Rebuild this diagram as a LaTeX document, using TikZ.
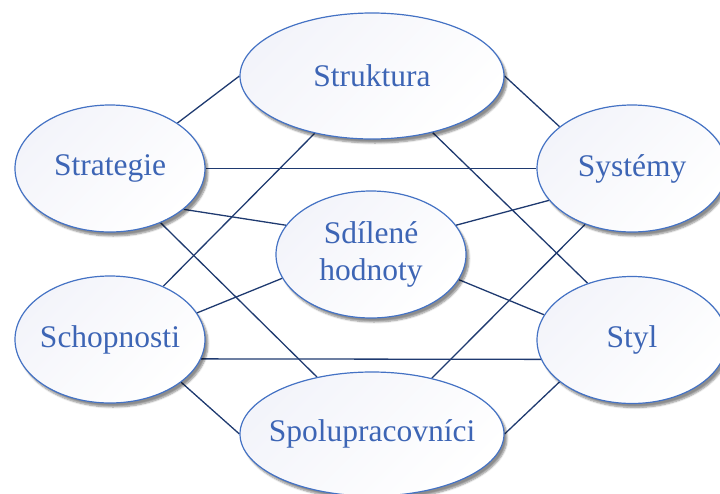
\documentclass[tikz,border=0pt]{standalone}
\usepackage{fontspec}
\setmainfont{Liberation Serif}
\usetikzlibrary{shapes.geometric,shadows.blur,backgrounds}
\definecolor{ebord}{HTML}{4472C4}
\definecolor{etext}{HTML}{3D65B5}
\definecolor{linkc}{HTML}{1F3A70}
\definecolor{elav}{HTML}{F3F4FA}
\begin{document}
\begin{tikzpicture}[x=1pt,y=-1pt,
  ovaltext/.style={text=etext, font=\fontsize{31.5}{37}\selectfont, align=center, inner sep=0pt},
  oval/.style={ellipse, draw=ebord, line width=1.2pt, inner sep=0pt,
    top color=elav, bottom color=white, shading angle=45,
    blur shadow={shadow xshift=3pt, shadow yshift=-4pt, shadow blur steps=6, shadow opacity=45},
    label={[ovaltext]center:#1}},
  smalloval/.style={oval=#1, minimum width=190pt, minimum height=127pt},
  bigoval/.style={oval=#1, minimum width=264pt, minimum height=126pt},
  conn/.style={draw=linkc, line width=1.3pt}]
\useasboundingbox (0,0) rectangle (720,493);
\node[bigoval={Struktura}] (str) at (372,76) {};
\node[smalloval={Strategie}] (sg) at (110,168.5) {};
\node[smalloval={Systémy}] (sy) at (632,168.5) {};
\node[smalloval={Sdílené\\hodnoty}] (sd) at (371,254.5) {};
\node[smalloval={Schopnosti}] (sc) at (110,339.5) {};
\node[smalloval={Styl}] (sl) at (632,340) {};
\node[bigoval={Spolupracovníci}, minimum height=124pt] (sp) at (372,434) {};
\begin{pgfonlayer}{background}
\draw[conn] (sg.34) -- (str.180);
\draw[conn] (sg.0) -- (sy.180);
\draw[conn] (sg.-29) -- (sd.161);
\draw[conn] (sg.-47) -- (sp.134);
\draw[conn] (str.225) -- (sc.45);
\draw[conn] (str.-43) -- (sl.128);
\draw[conn] (str.0) -- (sy.150);
\draw[conn] (sy.201) -- (sd.19);
\draw[conn] (sy.230) -- (sp.43);
\draw[conn] (sd.-16) -- (sl.164);
\draw[conn] (sc.17) -- (sd.195);
\draw[conn] (sc.-12) -- (sl.192);
\draw[conn] (sc.-31) -- (sp.180);
\draw[conn] (sl.210) -- (sp.0);
\end{pgfonlayer}
\end{tikzpicture}
\end{document}
